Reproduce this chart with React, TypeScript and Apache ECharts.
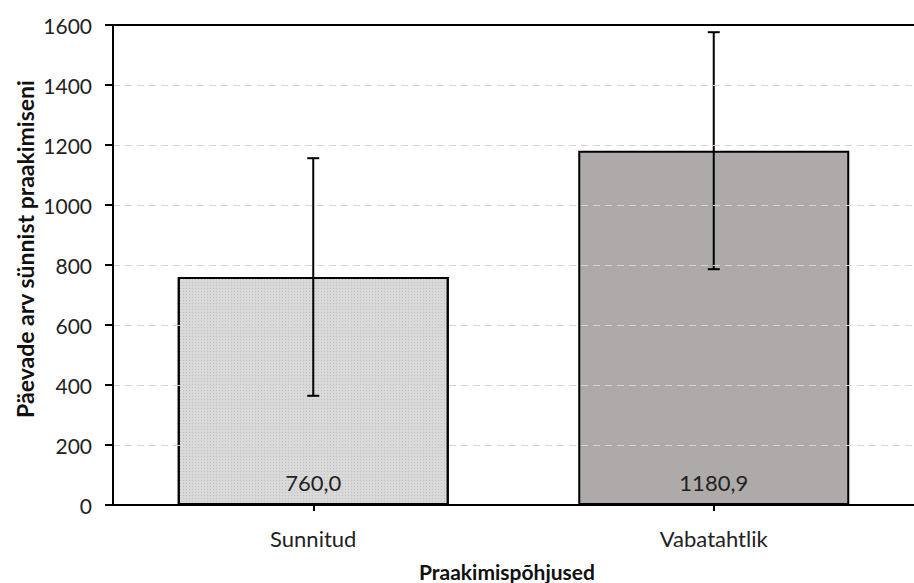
import React, { useEffect, useRef } from "react";
import * as echarts from "echarts";

const categories = ["Sunnitud", "Vabatahtlik"];
const means = [760.0, 1180.9];
const errLow = [364, 786];
const errHigh = [1156, 1576];
const barColors = ["#d9d9d9", "#aeaaaa"];
const yTicks = { min: 0, max: 1600, interval: 200 };
const yTitle = "Päevade arv sünnist praakimiseni";
const xTitle = "Praakimispõhjused";

const FONT = "Lato, 'Open Sans', 'Noto Sans', sans-serif";

export default function App() {
  const ref = useRef<HTMLDivElement>(null);
  useEffect(() => {
    if (!ref.current) return;
    const chart = echarts.init(ref.current, undefined, { renderer: "svg" });
    const option: any = {
      animation: false,
      backgroundColor: "#ffffff",
      textStyle: { fontFamily: FONT },
      grid: {
        left: 113,
        right: -7,
        top: 25,
        bottom: 78,
      },
      xAxis: [
        {
          type: "category",
          data: categories,
          axisLine: { show: true, lineStyle: { color: "#000", width: 2 } },
          axisTick: { show: true, alignWithLabel: true, length: 6, lineStyle: { color: "#000", width: 2 } },
          axisLabel: { color: "#222", fontSize: 22, fontFamily: FONT, margin: 22 },
          splitLine: { show: false },
          z: 10,
        },
        {
          type: "category",
          position: "top",
          data: categories,
          axisLine: { show: true, lineStyle: { color: "#000", width: 2 } },
          axisTick: { show: false },
          axisLabel: { show: false },
          splitLine: { show: false },
          z: 10,
        },
      ],
      yAxis: {
        type: "value",
        min: yTicks.min,
        max: yTicks.max,
        interval: yTicks.interval,
        axisLine: { show: true, lineStyle: { color: "#000", width: 2 } },
        axisTick: { show: true, length: 8, lineStyle: { color: "#000", width: 2 } },
        axisLabel: {
          color: "#222",
          fontSize: 21,
          fontFamily: FONT,
          margin: 21,
          formatter: (v: number) => String(v),
        },
        splitLine: { show: true, lineStyle: { color: "#d4d4d4", width: 1, type: [7, 5] } },
        z: 10,
      },
      graphic: [
        {
          type: "text",
          x: 25,
          y: 249,
          rotation: Math.PI / 2,
          style: {
            text: yTitle,
            fontSize: 23,
            fontWeight: "bold",
            fontFamily: FONT,
            fill: "#111",
            align: "center",
            verticalAlign: "middle",
          },
        },
        {
          type: "text",
          x: 507,
          y: 571,
          style: {
            text: xTitle,
            fontSize: 21,
            fontWeight: "bold",
            fontFamily: FONT,
            fill: "#111",
            align: "center",
            verticalAlign: "middle",
          },
        },
      ],
      series: [
        {
          type: "bar",
          barWidth: 271,
          z: 2,
          data: means.map((v, i) => ({
            value: v,
            itemStyle: {
              color: barColors[i],
              borderColor: "#000",
              borderWidth: 2,
              decal:
                i === 0
                  ? {
                      symbol: "rect",
                      symbolSize: 1,
                      dashArrayX: [1, 2],
                      dashArrayY: [1, 2],
                      color: "rgba(150,150,150,0.35)",
                      rotation: 0,
                    }
                  : undefined,
            },
          })),
          label: {
            show: true,
            position: "insideBottom",
            distance: 12,
            fontSize: 22,
            fontFamily: FONT,
            color: "#222",
            formatter: (p: any) => p.value.toFixed(1).replace(".", ","),
          },
        },
        {
          type: "custom",
          z: 5,
          data: categories.map((_, i) => [i, errLow[i], errHigh[i]]),
          renderItem: (params: any, api: any) => {
            const x = api.value(0);
            const lo = api.coord([x, api.value(1)]);
            const hi = api.coord([x, api.value(2)]);
            const cap = 6;
            const style = { stroke: "#000", lineWidth: 2 };
            return {
              type: "group",
              children: [
                { type: "line", shape: { x1: lo[0], y1: lo[1], x2: hi[0], y2: hi[1] }, style },
                { type: "line", shape: { x1: lo[0] - cap, y1: lo[1], x2: lo[0] + cap, y2: lo[1] }, style },
                { type: "line", shape: { x1: hi[0] - cap, y1: hi[1], x2: hi[0] + cap, y2: hi[1] }, style },
              ],
            };
          },
        },
      ],
    };
    chart.setOption(option);
    return () => chart.dispose();
  }, []);
  return (
    <div
      ref={ref}
      style={{ position: "fixed", left: 0, top: 0, width: 914, height: 583, background: "#fff" }}
    />
  );
}
